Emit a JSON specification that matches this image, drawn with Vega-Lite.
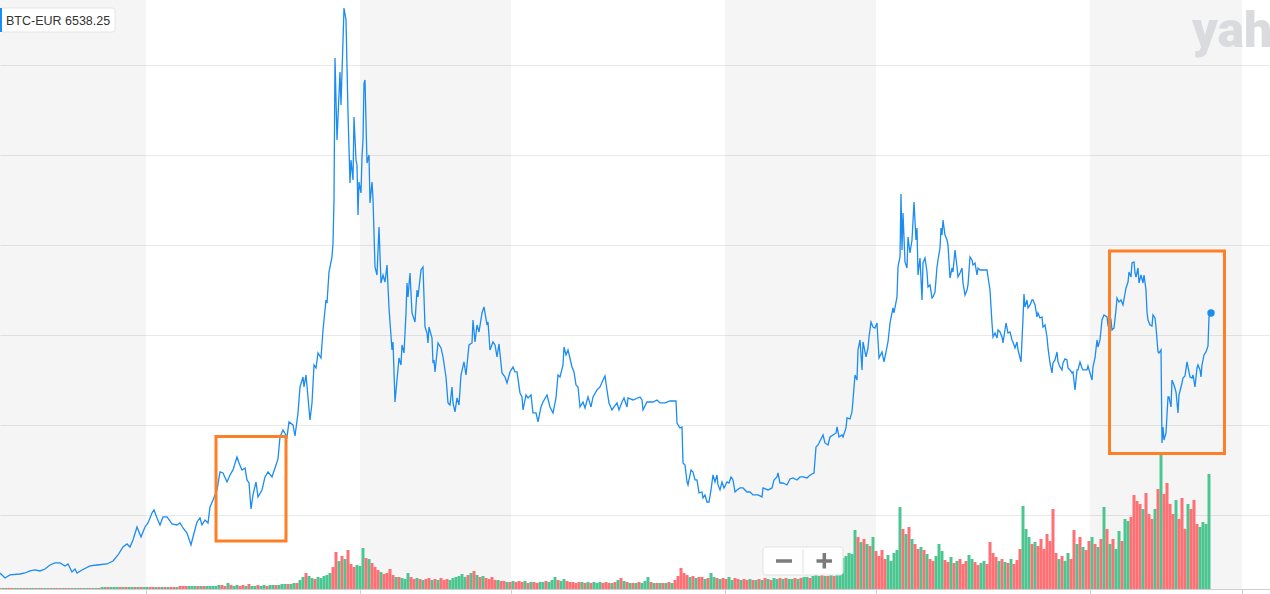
{
  "$schema": "https://vega.github.io/schema/vega-lite/v6.json",
  "description": "BTC-EUR price with daily volume (Yahoo style)",
  "width": 1270,
  "height": 589,
  "autosize": {"type": "none"},
  "padding": {"left": 0, "top": 0, "right": 0, "bottom": 5},
  "background": "white",
  "config": {"view": {"stroke": null}, "font": "Liberation Sans"},
  "datasets": {
    "bands": [
      {"t": 0, "t2": 146}, {"t": 360, "t2": 511}, {"t": 725, "t2": 876}, {"t": 1090, "t2": 1242}
    ],
    "price": [
      {"t":0,"p":889},{"t":5,"p":750},{"t":10,"p":834},{"t":20,"p":861},{"t":25,"p":889},{"t":30,"p":945},{"t":35,"p":973},{"t":40,"p":945},{"t":45,"p":1000},{"t":50,"p":1111},
      {"t":55,"p":1167},{"t":60,"p":1167},{"t":65,"p":1084},{"t":68,"p":1139},{"t":72,"p":917},{"t":75,"p":1000},{"t":77,"p":889},{"t":82,"p":973},{"t":90,"p":1084},{"t":97,"p":1111},
      {"t":107,"p":1139},{"t":113,"p":1223},{"t":118,"p":1389},{"t":123,"p":1611},{"t":127,"p":1695},{"t":130,"p":1611},{"t":133,"p":1806},{"t":137,"p":2167},{"t":141,"p":1889},{"t":145,"p":2167},
      {"t":148,"p":2278},{"t":152,"p":2556},{"t":154,"p":2639},{"t":157,"p":2417},{"t":160,"p":2223},{"t":163,"p":2445},{"t":167,"p":2445},{"t":172,"p":2250},{"t":177,"p":2223},{"t":180,"p":2278},
      {"t":183,"p":2139},{"t":187,"p":2000},{"t":191,"p":1667},{"t":193,"p":1889},{"t":197,"p":2306},{"t":200,"p":2417},{"t":202,"p":2223},{"t":205,"p":2361},{"t":208,"p":2278},{"t":210,"p":2723},
      {"t":213,"p":2917},{"t":217,"p":3195},{"t":220,"p":3695},{"t":223,"p":3667},{"t":227,"p":3417},{"t":230,"p":3612},{"t":233,"p":3751},{"t":237,"p":4112},{"t":239,"p":3945},{"t":242,"p":3751},
      {"t":245,"p":3806},{"t":247,"p":3473},{"t":249,"p":3389},{"t":251,"p":2667},{"t":253,"p":3056},{"t":256,"p":3417},{"t":258,"p":3001},{"t":262,"p":3195},{"t":265,"p":3556},{"t":268,"p":3695},
      {"t":272,"p":3556},{"t":275,"p":3806},{"t":278,"p":4056},{"t":280,"p":4667},{"t":283,"p":4862},{"t":287,"p":4667},{"t":289,"p":5084},{"t":293,"p":5001},{"t":295,"p":4695},{"t":298,"p":5334},
      {"t":300,"p":6056},{"t":303,"p":6334},{"t":304,"p":6056},{"t":306,"p":6390},{"t":310,"p":5139},{"t":312,"p":5612},{"t":314,"p":6667},{"t":316,"p":6584},{"t":318,"p":7001},{"t":321,"p":6862},
      {"t":323,"p":7640},{"t":326,"p":8473},{"t":327,"p":8390},{"t":329,"p":9250},{"t":332,"p":9667},{"t":333,"p":10056},{"t":334,"p":11250},{"t":335,"p":15195},{"t":337,"p":12917},{"t":340,"p":14806},
      {"t":341,"p":13889},{"t":344,"p":16584},{"t":346,"p":16250},{"t":348,"p":13667},{"t":350,"p":11722},{"t":351,"p":12361},{"t":353,"p":11806},{"t":354,"p":13556},{"t":356,"p":12361},{"t":357,"p":12222},
      {"t":358,"p":10833},{"t":359,"p":11750},{"t":361,"p":11445},{"t":362,"p":12445},{"t":363,"p":12917},{"t":364,"p":14500},{"t":365,"p":14584},{"t":367,"p":12278},{"t":369,"p":12500},{"t":370,"p":11167},
      {"t":372,"p":11750},{"t":373,"p":11278},{"t":375,"p":9389},{"t":377,"p":9167},{"t":379,"p":10500},{"t":381,"p":8944},{"t":383,"p":9167},{"t":385,"p":8972},{"t":387,"p":9444},{"t":389,"p":8251},
      {"t":392,"p":7084},{"t":393,"p":7306},{"t":395,"p":5639},{"t":397,"p":6251},{"t":399,"p":6862},{"t":401,"p":6667},{"t":402,"p":7223},{"t":404,"p":7001},{"t":406,"p":8112},{"t":407,"p":8944},
      {"t":408,"p":8556},{"t":410,"p":9222},{"t":412,"p":8112},{"t":415,"p":7862},{"t":417,"p":8750},{"t":418,"p":8556},{"t":421,"p":9306},{"t":423,"p":9389},{"t":425,"p":7723},{"t":427,"p":7556},
      {"t":428,"p":7279},{"t":429,"p":7723},{"t":432,"p":7417},{"t":433,"p":6723},{"t":434,"p":6806},{"t":435,"p":6473},{"t":438,"p":7279},{"t":441,"p":7140},{"t":443,"p":6890},{"t":446,"p":6334},
      {"t":448,"p":5612},{"t":450,"p":5556},{"t":452,"p":6056},{"t":453,"p":5612},{"t":455,"p":5362},{"t":457,"p":5751},{"t":459,"p":5556},{"t":461,"p":6390},{"t":464,"p":6751},{"t":466,"p":6390},
      {"t":469,"p":7223},{"t":472,"p":7279},{"t":473,"p":7917},{"t":475,"p":7306},{"t":477,"p":7779},{"t":479,"p":7584},{"t":482,"p":8112},{"t":484,"p":8279},{"t":487,"p":7779},{"t":488,"p":7862},
      {"t":490,"p":7084},{"t":493,"p":7306},{"t":495,"p":7223},{"t":497,"p":6890},{"t":499,"p":7251},{"t":502,"p":6445},{"t":505,"p":6334},{"t":507,"p":6167},{"t":510,"p":6473},{"t":513,"p":6612},
      {"t":515,"p":6473},{"t":517,"p":6473},{"t":520,"p":5890},{"t":522,"p":5779},{"t":523,"p":5417},{"t":526,"p":5834},{"t":528,"p":5751},{"t":531,"p":5834},{"t":533,"p":5334},{"t":536,"p":5334},
      {"t":538,"p":5084},{"t":541,"p":5501},{"t":543,"p":5639},{"t":547,"p":5834},{"t":550,"p":5501},{"t":553,"p":5334},{"t":556,"p":5751},{"t":558,"p":6390},{"t":560,"p":6334},{"t":563,"p":6667},
      {"t":564,"p":7167},{"t":566,"p":6945},{"t":568,"p":7084},{"t":572,"p":6612},{"t":574,"p":6473},{"t":576,"p":6112},{"t":578,"p":6056},{"t":580,"p":5501},{"t":583,"p":5639},{"t":585,"p":5473},
      {"t":588,"p":5779},{"t":591,"p":5501},{"t":593,"p":5779},{"t":597,"p":5973},{"t":600,"p":6056},{"t":603,"p":6251},{"t":605,"p":6362},{"t":607,"p":5973},{"t":609,"p":5612},{"t":612,"p":5417},
      {"t":614,"p":5501},{"t":617,"p":5612},{"t":619,"p":5417},{"t":622,"p":5639},{"t":624,"p":5751},{"t":627,"p":5501},{"t":628,"p":5751},{"t":633,"p":5695},{"t":640,"p":5779},{"t":642,"p":5695},
      {"t":643,"p":5417},{"t":647,"p":5639},{"t":653,"p":5639},{"t":657,"p":5695},{"t":660,"p":5612},{"t":665,"p":5612},{"t":670,"p":5667},{"t":676,"p":5667},{"t":677,"p":5056},{"t":680,"p":4917},
      {"t":682,"p":4945},{"t":683,"p":3945},{"t":685,"p":3889},{"t":687,"p":3417},{"t":688,"p":3334},{"t":691,"p":3751},{"t":693,"p":3695},{"t":695,"p":3473},{"t":697,"p":3473},{"t":699,"p":3112},
      {"t":702,"p":3139},{"t":703,"p":2973},{"t":705,"p":3056},{"t":707,"p":2861},{"t":709,"p":2861},{"t":711,"p":3195},{"t":713,"p":3612},{"t":715,"p":3417},{"t":717,"p":3612},{"t":718,"p":3334},
      {"t":720,"p":3195},{"t":722,"p":3417},{"t":724,"p":3251},{"t":727,"p":3417},{"t":729,"p":3389},{"t":731,"p":3556},{"t":733,"p":3473},{"t":735,"p":3139},{"t":737,"p":3195},{"t":740,"p":3251},
      {"t":743,"p":3251},{"t":747,"p":3139},{"t":750,"p":3139},{"t":753,"p":3056},{"t":758,"p":3056},{"t":762,"p":3001},{"t":763,"p":3251},{"t":768,"p":3195},{"t":772,"p":3251},{"t":774,"p":3473},
      {"t":777,"p":3556},{"t":778,"p":3667},{"t":780,"p":3389},{"t":783,"p":3389},{"t":787,"p":3334},{"t":790,"p":3501},{"t":793,"p":3528},{"t":797,"p":3473},{"t":800,"p":3556},{"t":803,"p":3556},
      {"t":807,"p":3528},{"t":809,"p":3584},{"t":812,"p":3639},{"t":814,"p":3667},{"t":816,"p":4389},{"t":818,"p":4445},{"t":822,"p":4667},{"t":823,"p":4723},{"t":825,"p":4501},{"t":828,"p":4445},
      {"t":830,"p":4667},{"t":833,"p":4723},{"t":836,"p":4778},{"t":837,"p":4945},{"t":839,"p":4667},{"t":842,"p":4723},{"t":843,"p":4667},{"t":846,"p":4917},{"t":847,"p":5195},{"t":850,"p":5167},
      {"t":852,"p":5362},{"t":853,"p":5695},{"t":855,"p":6390},{"t":857,"p":6251},{"t":858,"p":7084},{"t":860,"p":7362},{"t":862,"p":6529},{"t":863,"p":7306},{"t":866,"p":6890},{"t":868,"p":7140},
      {"t":869,"p":7445},{"t":871,"p":7862},{"t":873,"p":7723},{"t":875,"p":7695},{"t":877,"p":7834},{"t":879,"p":6862},{"t":882,"p":7029},{"t":884,"p":6751},{"t":886,"p":7029},{"t":888,"p":7306},
      {"t":890,"p":7834},{"t":893,"p":8251},{"t":894,"p":8112},{"t":897,"p":8556},{"t":898,"p":9389},{"t":900,"p":9667},{"t":901,"p":11417},{"t":902,"p":9861},{"t":903,"p":10889},{"t":905,"p":9528},
      {"t":907,"p":9361},{"t":908,"p":10222},{"t":910,"p":9778},{"t":912,"p":10139},{"t":914,"p":11194},{"t":916,"p":10139},{"t":917,"p":10472},{"t":918,"p":9167},{"t":920,"p":9639},{"t":922,"p":8473},
      {"t":923,"p":9500},{"t":925,"p":9639},{"t":927,"p":9250},{"t":928,"p":8833},{"t":930,"p":8889},{"t":932,"p":8528},{"t":933,"p":8556},{"t":935,"p":8694},{"t":937,"p":9389},{"t":938,"p":9583},
      {"t":940,"p":9917},{"t":941,"p":10472},{"t":942,"p":10278},{"t":943,"p":10694},{"t":945,"p":10278},{"t":947,"p":10139},{"t":948,"p":10000},{"t":950,"p":9083},{"t":952,"p":9361},{"t":953,"p":9250},
      {"t":955,"p":9861},{"t":957,"p":9389},{"t":958,"p":9111},{"t":960,"p":9222},{"t":962,"p":9361},{"t":963,"p":8944},{"t":965,"p":8611},{"t":967,"p":8750},{"t":968,"p":8889},{"t":970,"p":9667},
      {"t":972,"p":9583},{"t":973,"p":9444},{"t":975,"p":9500},{"t":977,"p":9167},{"t":978,"p":9361},{"t":980,"p":9306},{"t":983,"p":9306},{"t":987,"p":9306},{"t":988,"p":9111},{"t":990,"p":8750},
      {"t":992,"p":7834},{"t":993,"p":7445},{"t":995,"p":7556},{"t":997,"p":7417},{"t":998,"p":7640},{"t":1000,"p":7584},{"t":1002,"p":7445},{"t":1003,"p":7279},{"t":1006,"p":7834},{"t":1008,"p":7556},
      {"t":1010,"p":7584},{"t":1012,"p":7362},{"t":1013,"p":7306},{"t":1015,"p":7140},{"t":1017,"p":7306},{"t":1018,"p":7084},{"t":1021,"p":6751},{"t":1023,"p":7973},{"t":1024,"p":8639},{"t":1025,"p":8279},
      {"t":1027,"p":8473},{"t":1028,"p":8251},{"t":1030,"p":8334},{"t":1032,"p":8473},{"t":1033,"p":8473},{"t":1035,"p":8334},{"t":1037,"p":8001},{"t":1038,"p":8112},{"t":1040,"p":7973},{"t":1042,"p":8001},
      {"t":1043,"p":7723},{"t":1045,"p":7779},{"t":1047,"p":7445},{"t":1048,"p":7140},{"t":1050,"p":6723},{"t":1052,"p":6445},{"t":1053,"p":6723},{"t":1055,"p":6806},{"t":1057,"p":7029},{"t":1058,"p":6751},
      {"t":1060,"p":6612},{"t":1062,"p":6529},{"t":1063,"p":6723},{"t":1065,"p":6834},{"t":1067,"p":6806},{"t":1068,"p":6584},{"t":1070,"p":6529},{"t":1072,"p":6445},{"t":1073,"p":6473},{"t":1075,"p":5973},
      {"t":1077,"p":6529},{"t":1078,"p":6529},{"t":1080,"p":6751},{"t":1082,"p":6584},{"t":1083,"p":6529},{"t":1087,"p":6529},{"t":1088,"p":6640},{"t":1090,"p":6445},{"t":1092,"p":6251},{"t":1093,"p":6612},
      {"t":1095,"p":6862},{"t":1097,"p":7362},{"t":1098,"p":7167},{"t":1100,"p":7362},{"t":1102,"p":7917},{"t":1104,"p":8056},{"t":1107,"p":8001},{"t":1108,"p":7779},{"t":1111,"p":7917},{"t":1112,"p":7640},
      {"t":1114,"p":7695},{"t":1116,"p":8195},{"t":1117,"p":8528},{"t":1119,"p":8417},{"t":1121,"p":8473},{"t":1123,"p":8334},{"t":1126,"p":8806},{"t":1128,"p":8972},{"t":1129,"p":9250},{"t":1131,"p":9111},
      {"t":1132,"p":9500},{"t":1134,"p":9528},{"t":1135,"p":9222},{"t":1136,"p":9111},{"t":1138,"p":9361},{"t":1139,"p":8944},{"t":1141,"p":9167},{"t":1143,"p":8944},{"t":1144,"p":9167},{"t":1146,"p":8750},
      {"t":1147,"p":8140},{"t":1148,"p":7917},{"t":1150,"p":7779},{"t":1152,"p":7751},{"t":1153,"p":8056},{"t":1155,"p":7973},{"t":1156,"p":7723},{"t":1158,"p":7029},{"t":1159,"p":7001},{"t":1161,"p":7084},
      {"t":1162,"p":4501},{"t":1163,"p":4945},{"t":1164,"p":4584},{"t":1166,"p":4778},{"t":1168,"p":5779},{"t":1169,"p":5779},{"t":1171,"p":5501},{"t":1172,"p":6251},{"t":1174,"p":6112},{"t":1176,"p":5917},
      {"t":1178,"p":5334},{"t":1179,"p":5834},{"t":1182,"p":6167},{"t":1183,"p":6306},{"t":1185,"p":6362},{"t":1187,"p":6751},{"t":1188,"p":6612},{"t":1190,"p":6334},{"t":1192,"p":6306},{"t":1193,"p":6390},
      {"t":1195,"p":6056},{"t":1197,"p":6584},{"t":1198,"p":6667},{"t":1200,"p":6529},{"t":1201,"p":6334},{"t":1202,"p":6667},{"t":1204,"p":6945},{"t":1206,"p":7029},{"t":1208,"p":7195},{"t":1209,"p":8001},
      {"t":1211,"p":8112}
    ],
    "volume": [
      {"t":0,"v":10,"c":"u"},{"t":3,"v":10,"c":"d"},{"t":6,"v":10,"c":"u"},{"t":9,"v":10,"c":"d"},{"t":12,"v":10,"c":"d"},{"t":15,"v":10,"c":"u"},{"t":18,"v":10,"c":"u"},{"t":21,"v":10,"c":"d"},
      {"t":24,"v":10,"c":"u"},{"t":27,"v":10,"c":"d"},{"t":30,"v":10,"c":"u"},{"t":33,"v":10,"c":"u"},{"t":36,"v":10,"c":"d"},{"t":39,"v":10,"c":"u"},{"t":42,"v":10,"c":"d"},{"t":45,"v":10,"c":"u"},
      {"t":48,"v":10,"c":"u"},{"t":51,"v":10,"c":"d"},{"t":54,"v":10,"c":"u"},{"t":57,"v":10,"c":"d"},{"t":60,"v":10,"c":"d"},{"t":63,"v":10,"c":"u"},{"t":66,"v":10,"c":"d"},{"t":69,"v":10,"c":"u"},
      {"t":72,"v":10,"c":"d"},{"t":75,"v":10,"c":"u"},{"t":78,"v":10,"c":"u"},{"t":81,"v":10,"c":"d"},{"t":84,"v":10,"c":"u"},{"t":87,"v":10,"c":"u"},{"t":90,"v":10,"c":"d"},{"t":93,"v":10,"c":"u"},
      {"t":96,"v":10,"c":"u"},{"t":99,"v":10,"c":"d"},{"t":102,"v":20,"c":"u"},{"t":105,"v":20,"c":"u"},{"t":108,"v":20,"c":"d"},{"t":111,"v":20,"c":"u"},{"t":114,"v":20,"c":"u"},{"t":117,"v":20,"c":"u"},
      {"t":120,"v":20,"c":"d"},{"t":123,"v":20,"c":"u"},{"t":126,"v":20,"c":"d"},{"t":129,"v":20,"c":"u"},{"t":132,"v":20,"c":"u"},{"t":135,"v":20,"c":"d"},{"t":138,"v":20,"c":"u"},{"t":141,"v":20,"c":"d"},
      {"t":144,"v":20,"c":"u"},{"t":147,"v":20,"c":"u"},{"t":150,"v":20,"c":"d"},{"t":153,"v":20,"c":"d"},{"t":156,"v":20,"c":"u"},{"t":159,"v":20,"c":"d"},{"t":162,"v":20,"c":"u"},{"t":165,"v":20,"c":"d"},
      {"t":168,"v":20,"c":"u"},{"t":171,"v":20,"c":"d"},{"t":174,"v":20,"c":"d"},{"t":177,"v":20,"c":"u"},{"t":180,"v":30,"c":"d"},{"t":183,"v":30,"c":"d"},{"t":186,"v":30,"c":"d"},{"t":189,"v":30,"c":"u"},
      {"t":192,"v":30,"c":"u"},{"t":195,"v":30,"c":"u"},{"t":198,"v":30,"c":"d"},{"t":201,"v":30,"c":"u"},{"t":204,"v":30,"c":"d"},{"t":207,"v":30,"c":"u"},{"t":210,"v":30,"c":"u"},{"t":213,"v":30,"c":"u"},
      {"t":216,"v":30,"c":"u"},{"t":219,"v":40,"c":"u"},{"t":222,"v":40,"c":"d"},{"t":225,"v":30,"c":"d"},{"t":228,"v":60,"c":"u"},{"t":231,"v":40,"c":"d"},{"t":234,"v":30,"c":"u"},{"t":237,"v":40,"c":"u"},
      {"t":240,"v":30,"c":"d"},{"t":243,"v":40,"c":"d"},{"t":246,"v":30,"c":"u"},{"t":249,"v":50,"c":"d"},{"t":252,"v":30,"c":"u"},{"t":255,"v":30,"c":"u"},{"t":258,"v":40,"c":"d"},{"t":261,"v":30,"c":"u"},
      {"t":264,"v":40,"c":"u"},{"t":267,"v":30,"c":"d"},{"t":270,"v":40,"c":"u"},{"t":273,"v":40,"c":"u"},{"t":276,"v":40,"c":"d"},{"t":279,"v":40,"c":"u"},{"t":282,"v":50,"c":"u"},{"t":285,"v":50,"c":"u"},
      {"t":288,"v":50,"c":"d"},{"t":291,"v":50,"c":"u"},{"t":294,"v":60,"c":"u"},{"t":297,"v":60,"c":"d"},{"t":300,"v":90,"c":"u"},{"t":303,"v":120,"c":"u"},{"t":306,"v":160,"c":"d"},{"t":309,"v":130,"c":"u"},
      {"t":312,"v":110,"c":"u"},{"t":315,"v":100,"c":"d"},{"t":318,"v":120,"c":"u"},{"t":321,"v":110,"c":"u"},{"t":324,"v":130,"c":"u"},{"t":327,"v":140,"c":"u"},{"t":330,"v":160,"c":"u"},{"t":333,"v":220,"c":"d"},
      {"t":336,"v":370,"c":"d"},{"t":339,"v":280,"c":"u"},{"t":342,"v":330,"c":"d"},{"t":345,"v":300,"c":"u"},{"t":348,"v":390,"c":"d"},{"t":351,"v":250,"c":"d"},{"t":354,"v":220,"c":"d"},{"t":357,"v":240,"c":"u"},
      {"t":360,"v":230,"c":"u"},{"t":363,"v":410,"c":"u"},{"t":366,"v":310,"c":"d"},{"t":369,"v":300,"c":"u"},{"t":372,"v":260,"c":"d"},{"t":375,"v":220,"c":"d"},{"t":378,"v":190,"c":"d"},{"t":381,"v":170,"c":"u"},
      {"t":384,"v":150,"c":"d"},{"t":387,"v":160,"c":"d"},{"t":390,"v":200,"c":"d"},{"t":393,"v":140,"c":"d"},{"t":396,"v":120,"c":"u"},{"t":399,"v":120,"c":"d"},{"t":402,"v":110,"c":"u"},{"t":405,"v":100,"c":"u"},
      {"t":408,"v":160,"c":"u"},{"t":411,"v":120,"c":"d"},{"t":414,"v":100,"c":"d"},{"t":417,"v":110,"c":"u"},{"t":420,"v":100,"c":"d"},{"t":423,"v":90,"c":"u"},{"t":426,"v":100,"c":"d"},{"t":429,"v":110,"c":"d"},
      {"t":432,"v":90,"c":"u"},{"t":435,"v":100,"c":"d"},{"t":438,"v":90,"c":"u"},{"t":441,"v":110,"c":"d"},{"t":444,"v":90,"c":"d"},{"t":447,"v":100,"c":"d"},{"t":450,"v":90,"c":"u"},{"t":453,"v":110,"c":"u"},
      {"t":456,"v":120,"c":"u"},{"t":459,"v":130,"c":"u"},{"t":462,"v":150,"c":"u"},{"t":465,"v":120,"c":"u"},{"t":468,"v":140,"c":"d"},{"t":471,"v":160,"c":"u"},{"t":474,"v":180,"c":"d"},{"t":477,"v":140,"c":"u"},
      {"t":480,"v":120,"c":"d"},{"t":483,"v":130,"c":"u"},{"t":486,"v":110,"c":"d"},{"t":489,"v":100,"c":"d"},{"t":492,"v":120,"c":"d"},{"t":495,"v":90,"c":"d"},{"t":498,"v":90,"c":"u"},{"t":501,"v":80,"c":"d"},
      {"t":504,"v":80,"c":"d"},{"t":507,"v":70,"c":"u"},{"t":510,"v":70,"c":"d"},{"t":513,"v":80,"c":"u"},{"t":516,"v":70,"c":"d"},{"t":519,"v":80,"c":"d"},{"t":522,"v":70,"c":"d"},{"t":525,"v":80,"c":"u"},
      {"t":528,"v":60,"c":"d"},{"t":531,"v":70,"c":"u"},{"t":534,"v":70,"c":"d"},{"t":537,"v":60,"c":"d"},{"t":540,"v":70,"c":"u"},{"t":543,"v":70,"c":"u"},{"t":546,"v":80,"c":"d"},{"t":549,"v":70,"c":"u"},
      {"t":552,"v":90,"c":"u"},{"t":555,"v":120,"c":"u"},{"t":558,"v":90,"c":"d"},{"t":561,"v":80,"c":"u"},{"t":564,"v":100,"c":"u"},{"t":567,"v":80,"c":"d"},{"t":570,"v":70,"c":"d"},{"t":573,"v":70,"c":"d"},
      {"t":576,"v":60,"c":"d"},{"t":579,"v":70,"c":"d"},{"t":582,"v":70,"c":"u"},{"t":585,"v":60,"c":"d"},{"t":588,"v":70,"c":"u"},{"t":591,"v":60,"c":"d"},{"t":594,"v":70,"c":"u"},{"t":597,"v":60,"c":"u"},
      {"t":600,"v":70,"c":"u"},{"t":603,"v":60,"c":"d"},{"t":606,"v":70,"c":"d"},{"t":609,"v":60,"c":"d"},{"t":612,"v":60,"c":"u"},{"t":615,"v":70,"c":"d"},{"t":618,"v":90,"c":"u"},{"t":621,"v":110,"c":"d"},
      {"t":624,"v":80,"c":"u"},{"t":627,"v":70,"c":"d"},{"t":630,"v":60,"c":"u"},{"t":633,"v":60,"c":"d"},{"t":636,"v":60,"c":"u"},{"t":639,"v":70,"c":"d"},{"t":642,"v":60,"c":"u"},{"t":645,"v":80,"c":"u"},
      {"t":648,"v":120,"c":"u"},{"t":651,"v":70,"c":"d"},{"t":654,"v":60,"c":"u"},{"t":657,"v":60,"c":"d"},{"t":660,"v":60,"c":"u"},{"t":663,"v":60,"c":"d"},{"t":666,"v":60,"c":"u"},{"t":669,"v":70,"c":"d"},
      {"t":672,"v":60,"c":"u"},{"t":675,"v":90,"c":"d"},{"t":678,"v":130,"c":"d"},{"t":681,"v":210,"c":"d"},{"t":684,"v":160,"c":"d"},{"t":687,"v":140,"c":"d"},{"t":690,"v":120,"c":"u"},{"t":693,"v":130,"c":"d"},
      {"t":696,"v":110,"c":"u"},{"t":699,"v":120,"c":"d"},{"t":702,"v":120,"c":"d"},{"t":705,"v":100,"c":"u"},{"t":708,"v":110,"c":"d"},{"t":711,"v":160,"c":"u"},{"t":714,"v":120,"c":"u"},{"t":717,"v":110,"c":"d"},
      {"t":720,"v":100,"c":"u"},{"t":723,"v":110,"c":"d"},{"t":726,"v":100,"c":"d"},{"t":729,"v":120,"c":"u"},{"t":732,"v":90,"c":"u"},{"t":735,"v":110,"c":"d"},{"t":738,"v":100,"c":"d"},{"t":741,"v":90,"c":"u"},
      {"t":744,"v":100,"c":"d"},{"t":747,"v":90,"c":"d"},{"t":750,"v":100,"c":"u"},{"t":753,"v":90,"c":"d"},{"t":756,"v":90,"c":"u"},{"t":759,"v":100,"c":"d"},{"t":762,"v":90,"c":"u"},{"t":765,"v":110,"c":"d"},
      {"t":768,"v":100,"c":"u"},{"t":771,"v":90,"c":"d"},{"t":774,"v":110,"c":"u"},{"t":777,"v":100,"c":"u"},{"t":780,"v":110,"c":"d"},{"t":783,"v":100,"c":"u"},{"t":786,"v":110,"c":"d"},{"t":789,"v":100,"c":"u"},
      {"t":792,"v":100,"c":"u"},{"t":795,"v":110,"c":"d"},{"t":798,"v":100,"c":"u"},{"t":801,"v":110,"c":"d"},{"t":804,"v":120,"c":"u"},{"t":807,"v":120,"c":"u"},{"t":810,"v":110,"c":"d"},{"t":813,"v":130,"c":"u"},
      {"t":816,"v":140,"c":"u"},{"t":819,"v":130,"c":"u"},{"t":822,"v":140,"c":"d"},{"t":825,"v":130,"c":"u"},{"t":828,"v":130,"c":"d"},{"t":831,"v":140,"c":"u"},{"t":834,"v":130,"c":"d"},{"t":837,"v":140,"c":"u"},
      {"t":840,"v":140,"c":"u"},{"t":843,"v":310,"c":"u"},{"t":846,"v":330,"c":"u"},{"t":849,"v":360,"c":"u"},{"t":852,"v":350,"c":"u"},{"t":855,"v":590,"c":"u"},{"t":858,"v":520,"c":"d"},{"t":861,"v":470,"c":"u"},
      {"t":864,"v":500,"c":"d"},{"t":867,"v":450,"c":"u"},{"t":870,"v":430,"c":"d"},{"t":873,"v":520,"c":"u"},{"t":876,"v":380,"c":"d"},{"t":879,"v":330,"c":"d"},{"t":882,"v":390,"c":"d"},{"t":885,"v":300,"c":"d"},
      {"t":888,"v":340,"c":"u"},{"t":891,"v":280,"c":"u"},{"t":894,"v":360,"c":"u"},{"t":897,"v":390,"c":"u"},{"t":900,"v":820,"c":"u"},{"t":903,"v":600,"c":"d"},{"t":906,"v":550,"c":"u"},{"t":909,"v":620,"c":"d"},
      {"t":912,"v":500,"c":"u"},{"t":915,"v":450,"c":"d"},{"t":918,"v":400,"c":"d"},{"t":921,"v":420,"c":"u"},{"t":924,"v":390,"c":"d"},{"t":927,"v":350,"c":"u"},{"t":930,"v":300,"c":"d"},{"t":933,"v":280,"c":"d"},
      {"t":936,"v":330,"c":"u"},{"t":939,"v":450,"c":"u"},{"t":942,"v":380,"c":"u"},{"t":945,"v":290,"c":"d"},{"t":948,"v":270,"c":"d"},{"t":951,"v":320,"c":"u"},{"t":954,"v":260,"c":"d"},{"t":957,"v":280,"c":"u"},
      {"t":960,"v":300,"c":"d"},{"t":963,"v":250,"c":"d"},{"t":966,"v":280,"c":"d"},{"t":969,"v":340,"c":"u"},{"t":972,"v":300,"c":"u"},{"t":975,"v":270,"c":"d"},{"t":978,"v":240,"c":"d"},{"t":981,"v":260,"c":"u"},
      {"t":984,"v":280,"c":"u"},{"t":987,"v":250,"c":"d"},{"t":990,"v":470,"c":"d"},{"t":993,"v":360,"c":"d"},{"t":996,"v":320,"c":"d"},{"t":999,"v":280,"c":"u"},{"t":1002,"v":300,"c":"d"},{"t":1005,"v":270,"c":"u"},
      {"t":1008,"v":260,"c":"d"},{"t":1011,"v":300,"c":"u"},{"t":1014,"v":250,"c":"d"},{"t":1017,"v":290,"c":"d"},{"t":1020,"v":400,"c":"d"},{"t":1023,"v":830,"c":"u"},{"t":1026,"v":600,"c":"u"},{"t":1029,"v":520,"c":"u"},
      {"t":1032,"v":450,"c":"d"},{"t":1035,"v":470,"c":"u"},{"t":1038,"v":430,"c":"d"},{"t":1041,"v":500,"c":"d"},{"t":1044,"v":400,"c":"d"},{"t":1047,"v":550,"c":"d"},{"t":1050,"v":480,"c":"d"},{"t":1053,"v":800,"c":"d"},
      {"t":1056,"v":360,"c":"d"},{"t":1059,"v":300,"c":"u"},{"t":1062,"v":330,"c":"d"},{"t":1065,"v":280,"c":"u"},{"t":1068,"v":360,"c":"u"},{"t":1071,"v":300,"c":"d"},{"t":1074,"v":590,"c":"d"},{"t":1077,"v":450,"c":"u"},
      {"t":1080,"v":520,"c":"d"},{"t":1083,"v":420,"c":"u"},{"t":1086,"v":390,"c":"d"},{"t":1089,"v":480,"c":"d"},{"t":1092,"v":520,"c":"u"},{"t":1095,"v":450,"c":"d"},{"t":1098,"v":420,"c":"u"},{"t":1101,"v":500,"c":"d"},
      {"t":1104,"v":820,"c":"u"},{"t":1107,"v":600,"c":"d"},{"t":1110,"v":450,"c":"u"},{"t":1113,"v":500,"c":"d"},{"t":1116,"v":400,"c":"u"},{"t":1119,"v":580,"c":"u"},{"t":1122,"v":480,"c":"d"},{"t":1125,"v":700,"c":"u"},
      {"t":1128,"v":680,"c":"u"},{"t":1131,"v":720,"c":"d"},{"t":1134,"v":940,"c":"d"},{"t":1137,"v":880,"c":"d"},{"t":1140,"v":850,"c":"d"},{"t":1143,"v":800,"c":"u"},{"t":1146,"v":960,"c":"d"},{"t":1149,"v":750,"c":"d"},
      {"t":1152,"v":700,"c":"d"},{"t":1155,"v":800,"c":"u"},{"t":1158,"v":1000,"c":"d"},{"t":1161,"v":1370,"c":"u"},{"t":1164,"v":950,"c":"d"},{"t":1167,"v":1060,"c":"d"},{"t":1170,"v":850,"c":"d"},{"t":1173,"v":750,"c":"d"},
      {"t":1176,"v":890,"c":"u"},{"t":1179,"v":700,"c":"d"},{"t":1182,"v":910,"c":"d"},{"t":1185,"v":600,"c":"d"},{"t":1188,"v":850,"c":"u"},{"t":1191,"v":800,"c":"d"},{"t":1194,"v":890,"c":"d"},{"t":1197,"v":650,"c":"d"},
      {"t":1200,"v":620,"c":"u"},{"t":1203,"v":670,"c":"u"},{"t":1206,"v":650,"c":"u"},{"t":1209,"v":1150,"c":"u"}
    ],
    "boxes": [
      {"t": 216, "t2": 286, "p": 4681, "p2": 1777},
      {"t": 1109.5, "t2": 1224.5, "p": 9833, "p2": 4208}
    ]
  },
  "resolve": {"scale": {"y": "independent"}, "axis": {"y": "independent"}},
  "layer": [
    {
      "data": {"name": "bands"},
      "transform": [
        {"calculate": "time(datetime(2017,0,6)) + datum.t * 86400000", "as": "d1"},
        {"calculate": "time(datetime(2017,0,6)) + datum.t2 * 86400000", "as": "d2"}
      ],
      "mark": {"type": "rect", "fill": "#000000", "fillOpacity": 0.04},
      "encoding": {
        "x": {
          "field": "d1",
          "type": "temporal",
          "scale": {
            "domain": [{"year": 2017, "month": 1, "date": 6}, {"year": 2020, "month": 6, "date": 29}],
            "nice": false,
            "padding": 0
          },
          "axis": {
            "values": [
              {"year": 2017, "month": 6, "date": 1}, {"year": 2018, "month": 1, "date": 1},
              {"year": 2018, "month": 6, "date": 1}, {"year": 2019, "month": 1, "date": 1},
              {"year": 2019, "month": 6, "date": 1}, {"year": 2020, "month": 1, "date": 1},
              {"year": 2020, "month": 6, "date": 1}
            ],
            "labels": false,
            "title": null,
            "grid": false,
            "tickSize": 5,
            "tickColor": "#cfcfcf",
            "domainColor": "#cfcfcf"
          }
        },
        "x2": {"field": "d2"}
      }
    },
    {
      "data": {"name": "volume"},
      "transform": [{"calculate": "time(datetime(2017,0,6)) + datum.t * 86400000", "as": "d"}],
      "mark": {"type": "bar", "width": 3},
      "encoding": {
        "x": {"field": "d", "type": "temporal"},
        "y": {"field": "v", "type": "quantitative", "scale": {"domain": [0, 5890], "nice": false}, "axis": null},
        "color": {
          "field": "c",
          "type": "nominal",
          "scale": {"domain": ["u", "d"], "range": ["#4cc690", "#ff6f73"]},
          "legend": null
        }
      }
    },
    {
      "data": {"name": "price"},
      "transform": [{"calculate": "time(datetime(2017,0,6)) + datum.t * 86400000", "as": "d"}],
      "mark": {"type": "line", "color": "#1b8cf2", "strokeWidth": 1.3},
      "encoding": {
        "x": {"field": "d", "type": "temporal"},
        "y": {
          "field": "p",
          "type": "quantitative",
          "scale": {"domain": [444, 16806], "nice": false, "zero": false},
          "axis": {
            "values": [2500, 5000, 7500, 10000, 12500, 15000],
            "labels": false,
            "ticks": false,
            "domain": false,
            "title": null,
            "grid": true,
            "gridColor": "#e9e9e9"
          }
        }
      }
    },
    {
      "data": {"values": [{"t": 1211, "p": 8112}]},
      "transform": [{"calculate": "time(datetime(2017,0,6)) + datum.t * 86400000", "as": "d"}],
      "mark": {"type": "point", "filled": true, "size": 55, "color": "#1b8cf2", "opacity": 1},
      "encoding": {
        "x": {"field": "d", "type": "temporal"},
        "y": {"field": "p", "type": "quantitative", "scale": {"domain": [444, 16806], "nice": false, "zero": false}, "axis": null}
      }
    },
    {
      "data": {"name": "boxes"},
      "transform": [
        {"calculate": "time(datetime(2017,0,6)) + datum.t * 86400000", "as": "d1"},
        {"calculate": "time(datetime(2017,0,6)) + datum.t2 * 86400000", "as": "d2"}
      ],
      "mark": {"type": "rect", "fill": null, "fillOpacity": 0, "stroke": "#ff7f27", "strokeWidth": 3},
      "encoding": {
        "x": {"field": "d1", "type": "temporal"},
        "x2": {"field": "d2"},
        "y": {"field": "p", "type": "quantitative", "scale": {"domain": [444, 16806], "nice": false, "zero": false}, "axis": null},
        "y2": {"field": "p2"}
      }
    },
    {
      "data": {"values": [{"t": 0, "t2": 115, "p": 16584, "p2": 15917}]},
      "transform": [
        {"calculate": "time(datetime(2017,0,6)) + datum.t * 86400000", "as": "d1"},
        {"calculate": "time(datetime(2017,0,6)) + datum.t2 * 86400000", "as": "d2"}
      ],
      "mark": {"type": "rect", "fill": "#ffffff", "stroke": "#e4e4e4", "strokeWidth": 1, "cornerRadius": 3},
      "encoding": {
        "x": {"field": "d1", "type": "temporal"},
        "x2": {"field": "d2"},
        "y": {"field": "p", "type": "quantitative", "scale": {"domain": [444, 16806], "nice": false, "zero": false}, "axis": null},
        "y2": {"field": "p2"}
      }
    },
    {
      "data": {"values": [{"t": 0, "t2": 2, "p": 16584, "p2": 15917}]},
      "transform": [
        {"calculate": "time(datetime(2017,0,6)) + datum.t * 86400000", "as": "d1"},
        {"calculate": "time(datetime(2017,0,6)) + datum.t2 * 86400000", "as": "d2"}
      ],
      "mark": {"type": "rect", "fill": "#1b8cf2"},
      "encoding": {
        "x": {"field": "d1", "type": "temporal"},
        "x2": {"field": "d2"},
        "y": {"field": "p", "type": "quantitative", "scale": {"domain": [444, 16806], "nice": false, "zero": false}, "axis": null},
        "y2": {"field": "p2"}
      }
    },
    {
      "data": {"values": [{"t": 6, "p": 16112, "s": "BTC-EUR"}, {"t": 65, "p": 16112, "s": "6538.25"}]},
      "transform": [{"calculate": "time(datetime(2017,0,6)) + datum.t * 86400000", "as": "d"}],
      "mark": {"type": "text", "align": "left", "baseline": "alphabetic", "fontSize": 12.5, "color": "#333333", "font": "Liberation Sans"},
      "encoding": {
        "x": {"field": "d", "type": "temporal"},
        "y": {"field": "p", "type": "quantitative", "scale": {"domain": [444, 16806], "nice": false, "zero": false}, "axis": null},
        "text": {"field": "s"}
      }
    },
    {
      "data": {"values": [{"t": 1192, "p": 15500, "s": "yahoo!"}]},
      "transform": [{"calculate": "time(datetime(2017,0,6)) + datum.t * 86400000", "as": "d"}],
      "mark": {"type": "text", "align": "left", "baseline": "alphabetic", "fontSize": 50, "fontWeight": 900, "font": "Roboto", "color": "#dadbde"},
      "encoding": {
        "x": {"field": "d", "type": "temporal"},
        "y": {"field": "p", "type": "quantitative", "scale": {"domain": [444, 16806], "nice": false, "zero": false}, "axis": null},
        "text": {"field": "s"}
      }
    },
    {
      "data": {"values": [{"t": 763, "t2": 843, "v": 140, "v2": 420}]},
      "transform": [
        {"calculate": "time(datetime(2017,0,6)) + datum.t * 86400000", "as": "d1"},
        {"calculate": "time(datetime(2017,0,6)) + datum.t2 * 86400000", "as": "d2"}
      ],
      "mark": {"type": "rect", "fill": "#ffffff", "fillOpacity": 0.85, "stroke": "#e2e2e2", "strokeWidth": 1, "cornerRadius": 3},
      "encoding": {
        "x": {"field": "d1", "type": "temporal"},
        "x2": {"field": "d2"},
        "y": {"field": "v", "type": "quantitative", "scale": {"domain": [0, 5890], "nice": false}, "axis": null},
        "y2": {"field": "v2"}
      }
    },
    {
      "data": {"values": [{"t": 803, "t2": 803, "v": 160, "v2": 400}]},
      "transform": [
        {"calculate": "time(datetime(2017,0,6)) + datum.t * 86400000", "as": "d1"},
        {"calculate": "time(datetime(2017,0,6)) + datum.t2 * 86400000", "as": "d2"}
      ],
      "mark": {"type": "rule", "color": "#e2e2e2", "strokeWidth": 1},
      "encoding": {
        "x": {"field": "d1", "type": "temporal"},
        "x2": {"field": "d2"},
        "y": {"field": "v", "type": "quantitative", "scale": {"domain": [0, 5890], "nice": false}, "axis": null},
        "y2": {"field": "v2"}
      }
    },
    {
      "data": {"values": [
        {"t": 776, "t2": 792, "v": 280, "v2": 280},
        {"t": 816.5, "t2": 832, "v": 280, "v2": 280},
        {"t": 824.3, "t2": 824.3, "v": 360, "v2": 205}
      ]},
      "transform": [
        {"calculate": "time(datetime(2017,0,6)) + datum.t * 86400000", "as": "d1"},
        {"calculate": "time(datetime(2017,0,6)) + datum.t2 * 86400000", "as": "d2"}
      ],
      "mark": {"type": "rule", "color": "#7b7b7b", "strokeWidth": 3.5},
      "encoding": {
        "x": {"field": "d1", "type": "temporal"},
        "x2": {"field": "d2"},
        "y": {"field": "v", "type": "quantitative", "scale": {"domain": [0, 5890], "nice": false}, "axis": null},
        "y2": {"field": "v2"}
      }
    }
  ]
}
